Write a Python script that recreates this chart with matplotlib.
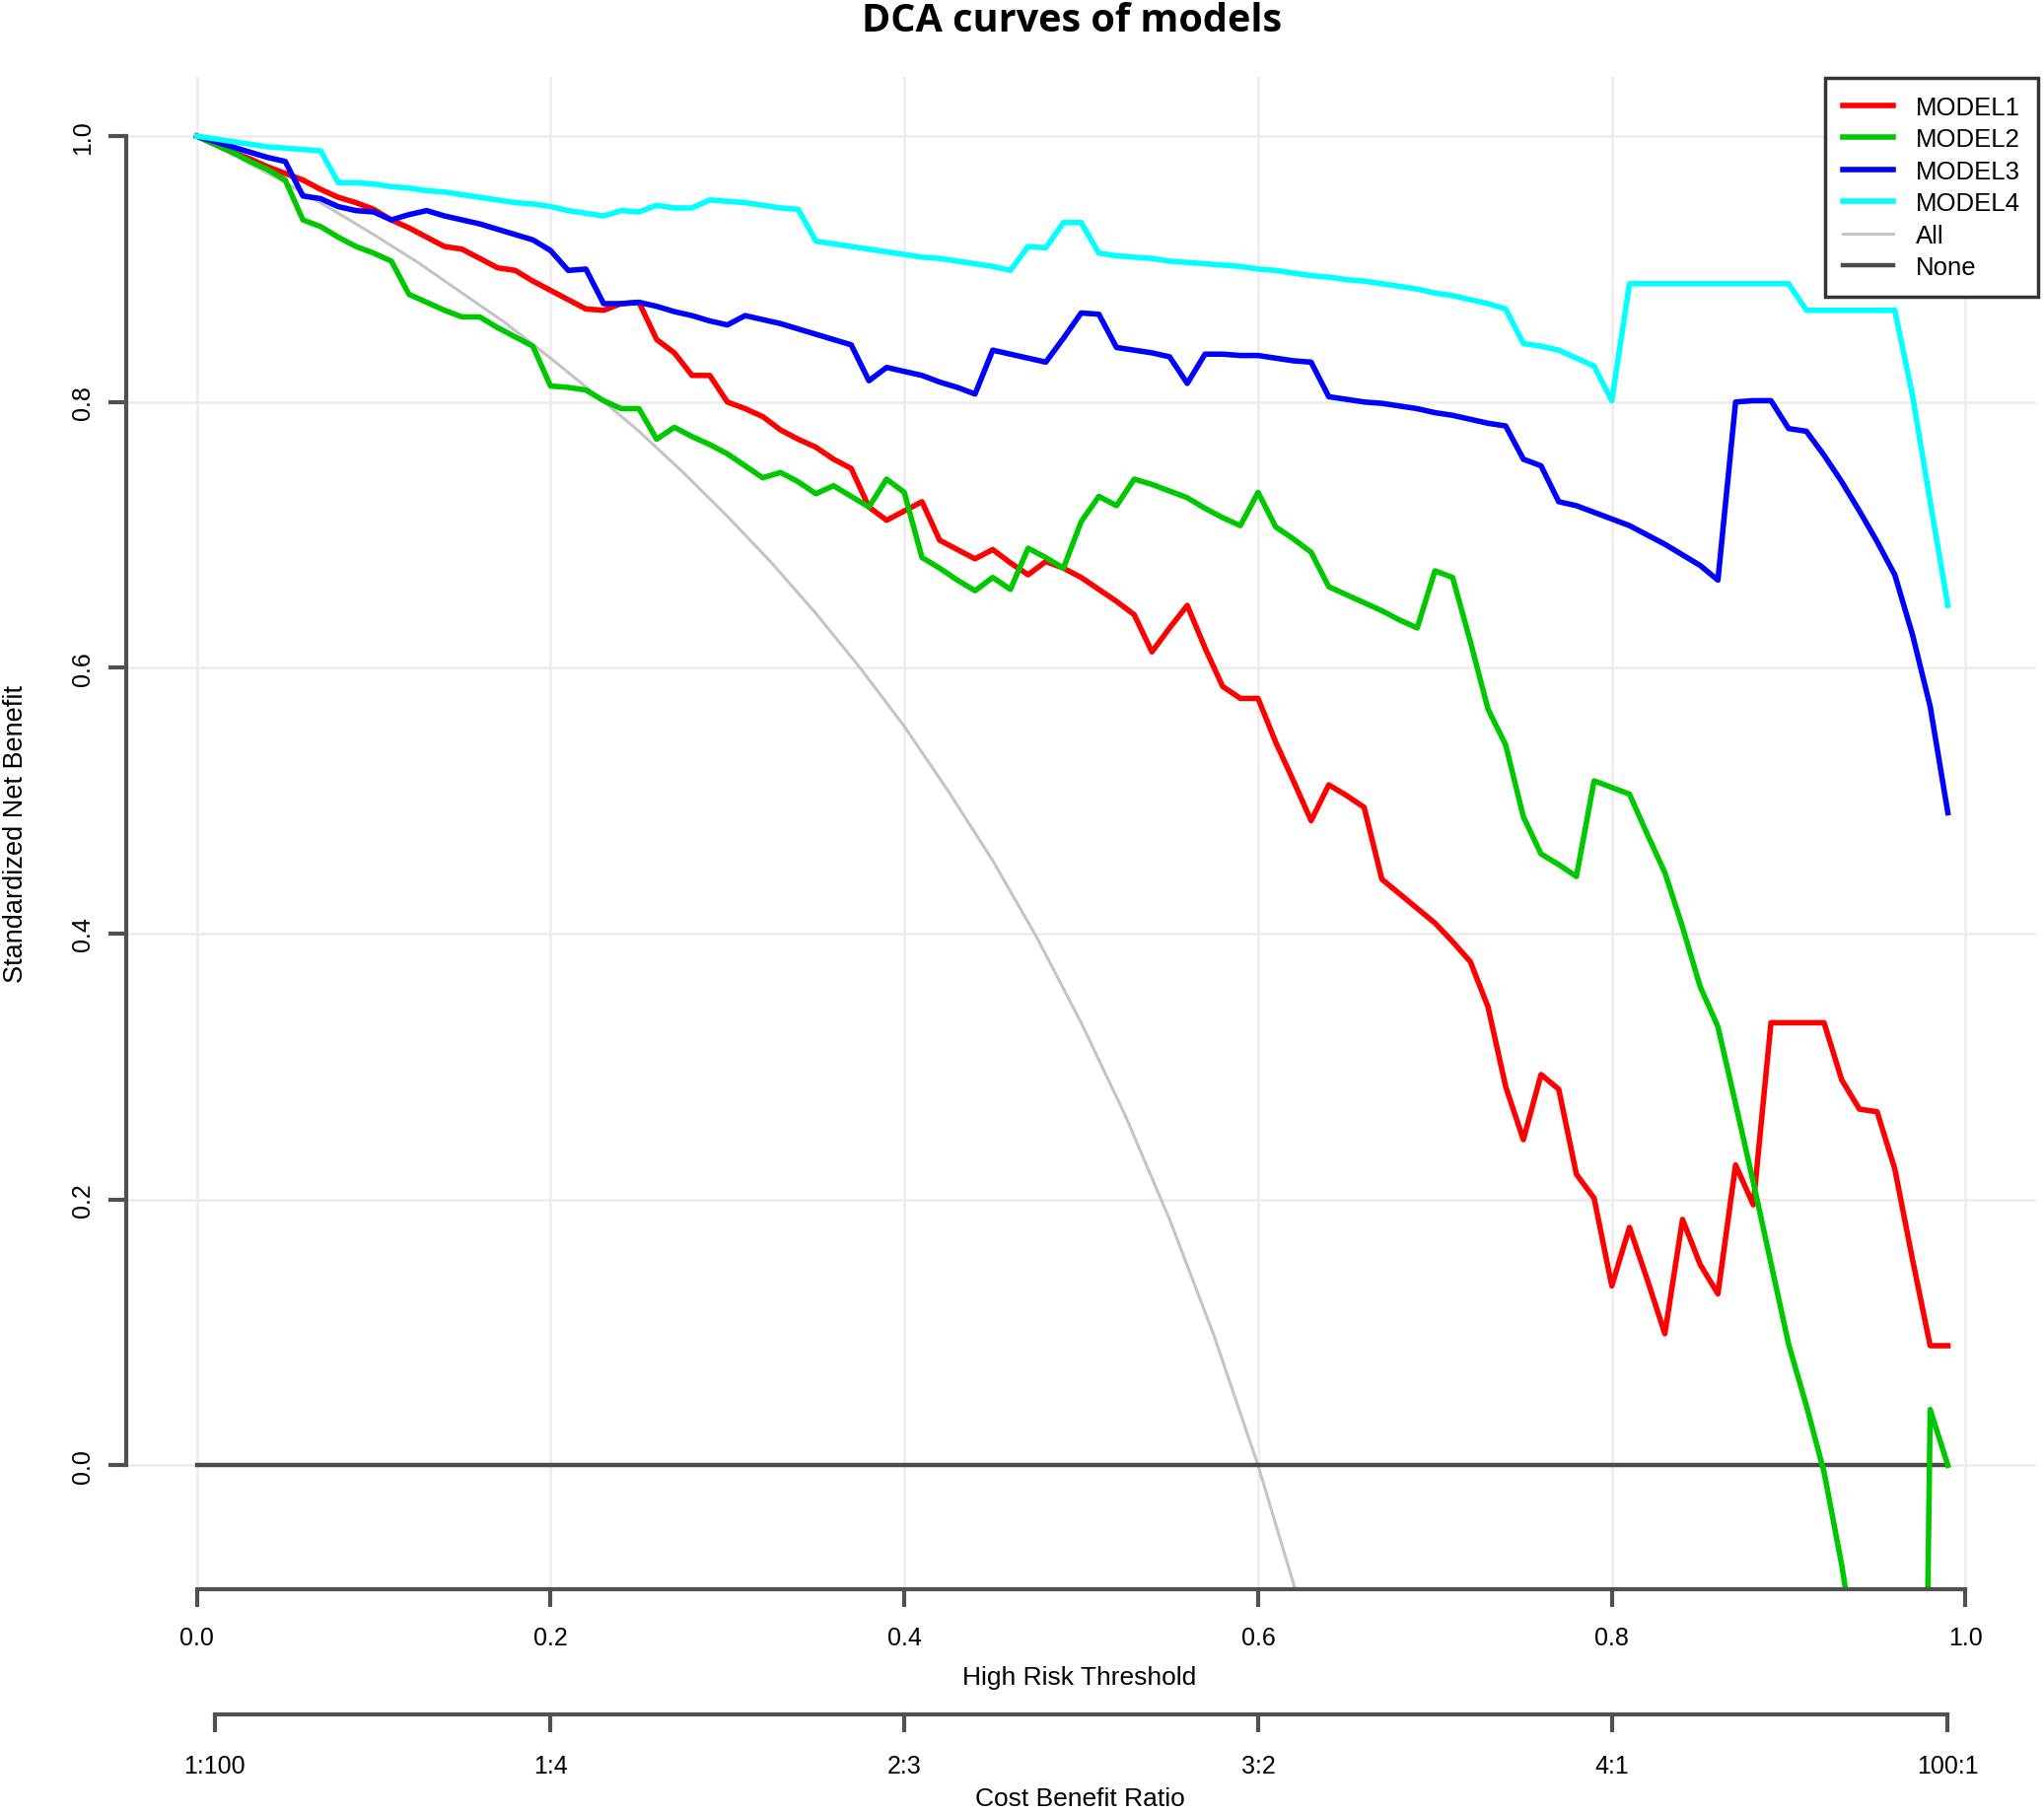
import numpy as np
import matplotlib.pyplot as plt

plt.rcParams['font.family'] = ['Liberation Sans', 'DejaVu Sans']

# high risk thresholds 0.00 .. 0.99
thresholds = np.round(np.arange(100) * 0.01, 2)

model1 = [1.000, 0.994, 0.988, 0.983, 0.977, 0.972, 0.967, 0.960, 0.954, 0.950,
          0.945, 0.937, 0.931, 0.924, 0.917, 0.915, 0.908, 0.901, 0.899, 0.891,
          0.884, 0.877, 0.870, 0.869, 0.874, 0.875, 0.847, 0.837, 0.820, 0.820,
          0.800, 0.795, 0.789, 0.779, 0.772, 0.766, 0.757, 0.750, 0.721, 0.711,
          0.718, 0.725, 0.696, 0.689, 0.682, 0.689, 0.679, 0.670, 0.680, 0.675,
          0.668, 0.659, 0.650, 0.640, 0.612, 0.630, 0.647, 0.615, 0.586, 0.577,
          0.577, 0.544, 0.515, 0.485, 0.512, 0.504, 0.495, 0.441, 0.430, 0.419,
          0.408, 0.394, 0.379, 0.345, 0.285, 0.245, 0.294, 0.283, 0.219, 0.201,
          0.135, 0.179, 0.140, 0.099, 0.185, 0.151, 0.129, 0.226, 0.196, 0.333,
          0.333, 0.333, 0.333, 0.290, 0.268, 0.266, 0.223, 0.155, 0.090, 0.090]

model2 = [1.000, 0.994, 0.988, 0.981, 0.975, 0.967, 0.937, 0.932, 0.924, 0.917,
          0.912, 0.906, 0.881, 0.875, 0.869, 0.864, 0.864, 0.856, 0.849, 0.842,
          0.812, 0.811, 0.809, 0.801, 0.795, 0.795, 0.772, 0.781, 0.774, 0.768,
          0.761, 0.752, 0.743, 0.747, 0.740, 0.731, 0.737, 0.729, 0.721, 0.742,
          0.732, 0.683, 0.675, 0.666, 0.658, 0.668, 0.659, 0.690, 0.683, 0.675,
          0.710, 0.729, 0.722, 0.742, 0.738, 0.733, 0.728, 0.720, 0.713, 0.707,
          0.732, 0.706, 0.697, 0.687, 0.661, 0.655, 0.649, 0.643, 0.636, 0.630,
          0.673, 0.668, 0.620, 0.569, 0.542, 0.488, 0.460, 0.452, 0.443, 0.515,
          0.510, 0.505, 0.475, 0.446, 0.405, 0.360, 0.330, 0.272, 0.213, 0.152,
          0.091, 0.045, -0.005, -0.075, -0.160, -0.300, -0.500, -1.000, 0.042, 0.000]

model3 = [1.000, 0.996, 0.992, 0.988, 0.984, 0.981, 0.955, 0.953, 0.947, 0.944,
          0.943, 0.937, 0.941, 0.944, 0.940, 0.937, 0.934, 0.930, 0.926, 0.922,
          0.914, 0.899, 0.900, 0.874, 0.874, 0.875, 0.872, 0.868, 0.865, 0.861,
          0.858, 0.865, 0.862, 0.859, 0.855, 0.851, 0.847, 0.843, 0.816, 0.826,
          0.823, 0.820, 0.815, 0.811, 0.806, 0.839, 0.836, 0.833, 0.830, 0.848,
          0.867, 0.866, 0.841, 0.839, 0.837, 0.834, 0.814, 0.836, 0.836, 0.835,
          0.835, 0.833, 0.831, 0.830, 0.804, 0.802, 0.800, 0.799, 0.797, 0.795,
          0.792, 0.790, 0.787, 0.784, 0.782, 0.757, 0.752, 0.725, 0.722, 0.717,
          0.712, 0.707, 0.700, 0.693, 0.685, 0.677, 0.666, 0.800, 0.801, 0.801,
          0.780, 0.778, 0.760, 0.740, 0.718, 0.695, 0.670, 0.625, 0.571, 0.491]

model4 = [1.000, 0.998, 0.996, 0.994, 0.992, 0.991, 0.990, 0.989, 0.965, 0.965,
          0.964, 0.962, 0.961, 0.959, 0.958, 0.956, 0.954, 0.952, 0.950, 0.949,
          0.947, 0.944, 0.942, 0.940, 0.944, 0.943, 0.948, 0.946, 0.946, 0.952,
          0.951, 0.950, 0.948, 0.946, 0.945, 0.921, 0.919, 0.917, 0.915, 0.913,
          0.911, 0.909, 0.908, 0.906, 0.904, 0.902, 0.899, 0.917, 0.916, 0.935,
          0.935, 0.912, 0.910, 0.909, 0.908, 0.906, 0.905, 0.904, 0.903, 0.902,
          0.900, 0.899, 0.897, 0.895, 0.894, 0.892, 0.891, 0.889, 0.887, 0.885,
          0.882, 0.880, 0.877, 0.874, 0.870, 0.844, 0.842, 0.839, 0.833, 0.827,
          0.801, 0.889, 0.889, 0.889, 0.889, 0.889, 0.889, 0.889, 0.889, 0.889,
          0.889, 0.869, 0.869, 0.869, 0.869, 0.869, 0.869, 0.805, 0.725, 0.647]

# treat-all curve, read at coarser steps
all_x = [0.000, 0.025, 0.050, 0.075, 0.100, 0.125, 0.150, 0.175, 0.200,
         0.225, 0.250, 0.275, 0.300, 0.325, 0.350, 0.375, 0.400, 0.425,
         0.450, 0.475, 0.500, 0.525, 0.550, 0.575, 0.600, 0.625, 0.650]
all_y = [1.000, 0.983, 0.965, 0.946, 0.926, 0.905, 0.882, 0.859, 0.833,
         0.806, 0.778, 0.747, 0.714, 0.679, 0.641, 0.600, 0.556, 0.507,
         0.455, 0.397, 0.333, 0.263, 0.185, 0.098, 0.000, -0.111, -0.238]

none_x = [0.00, 0.99]
none_y = [0.0, 0.0]

x_ticks = [0.0, 0.2, 0.4, 0.6, 0.8, 1.0]
ratio_ticks = [0.01, 0.2, 0.4, 0.6, 0.8, 0.99]
ratio_labels = ['1:100', '1:4', '2:3', '3:2', '4:1', '100:1']

W, H = 2073, 1840
fig = plt.figure(figsize=(W / 100, H / 100), dpi=100)
ax = fig.add_axes([128 / W, 1 - 1613 / H, (2065 - 128) / W, (1613 - 79) / H])

ax.set_xlim(-0.0399, 1.0399)
ax.set_ylim(-0.0932, 1.0446)
ax.set_axisbelow(True)
ax.grid(True, color='#ececec', lw=1.8)

ax.plot(all_x, all_y, color='#c4c4c4', lw=2.2, label='All')
ax.plot(none_x, none_y, color='#4a4a4a', lw=3.2, label='None')
ax.plot(thresholds, model1, color='#ff0000', lw=4.0, label='MODEL1')
ax.plot(thresholds, model2, color='#00c800', lw=4.0, label='MODEL2')
ax.plot(thresholds, model3, color='#0000ff', lw=4.0, label='MODEL3')
ax.plot(thresholds, model4, color='#00ffff', lw=4.0, label='MODEL4')

axis_col = '#505050'
for side in ['top', 'right']:
    ax.spines[side].set_visible(False)
for side in ['left', 'bottom']:
    ax.spines[side].set_bounds(0, 1)
    ax.spines[side].set_color(axis_col)
    ax.spines[side].set_linewidth(3.0)

ax.set_xticks(x_ticks)
ax.set_xticklabels([f'{v:.1f}' for v in x_ticks])
ax.set_yticks(x_ticks)
ax.set_yticklabels([f'{v:.1f}' for v in x_ticks])
ax.tick_params(axis='both', length=13, width=3.0, color=axis_col, labelsize=18)
ax.tick_params(axis='x', pad=14)
ax.tick_params(axis='y', pad=10, labelrotation=90)
for t in ax.get_yticklabels():
    t.set_verticalalignment('center')

sec = ax.secondary_xaxis(-0.0828)
sec.set_xticks(ratio_ticks)
sec.set_xticklabels(ratio_labels)
sec.spines['bottom'].set_bounds(0.01, 0.99)
sec.spines['bottom'].set_color(axis_col)
sec.spines['bottom'].set_linewidth(3.0)
sec.tick_params(axis='x', length=13, width=3.0, color=axis_col, labelsize=18, pad=16)

fig.text(1095 / W, 1 - 1702 / H, 'High Risk Threshold', ha='center', va='center', fontsize=19)
fig.text(1095 / W, 1 - 1825 / H, 'Cost Benefit Ratio', ha='center', va='center', fontsize=19)
fig.text(16 / W, 1 - 846 / H, 'Standardized Net Benefit', ha='center', va='center',
         rotation=90, fontsize=19.5)
fig.text(1087 / W, 1 - 22 / H, 'DCA curves of models', ha='center', va='center',
         fontsize=28.5, fontweight='bold', family='Open Sans')

handles, labels = ax.get_legend_handles_labels()
order = [2, 3, 4, 5, 0, 1]
leg = ax.legend([handles[i] for i in order], [labels[i] for i in order],
                loc='upper right', bbox_to_anchor=(2067 / W, 1 - 80 / H),
                bbox_transform=fig.transFigure, borderaxespad=0, fontsize=18.5,
                fancybox=False, framealpha=1, edgecolor='#333333',
                handlelength=2.0, handletextpad=0.9, labelspacing=0.33,
                borderpad=0.7)
leg.get_frame().set_linewidth(2.5)

fig.savefig('out.png', dpi=100)
